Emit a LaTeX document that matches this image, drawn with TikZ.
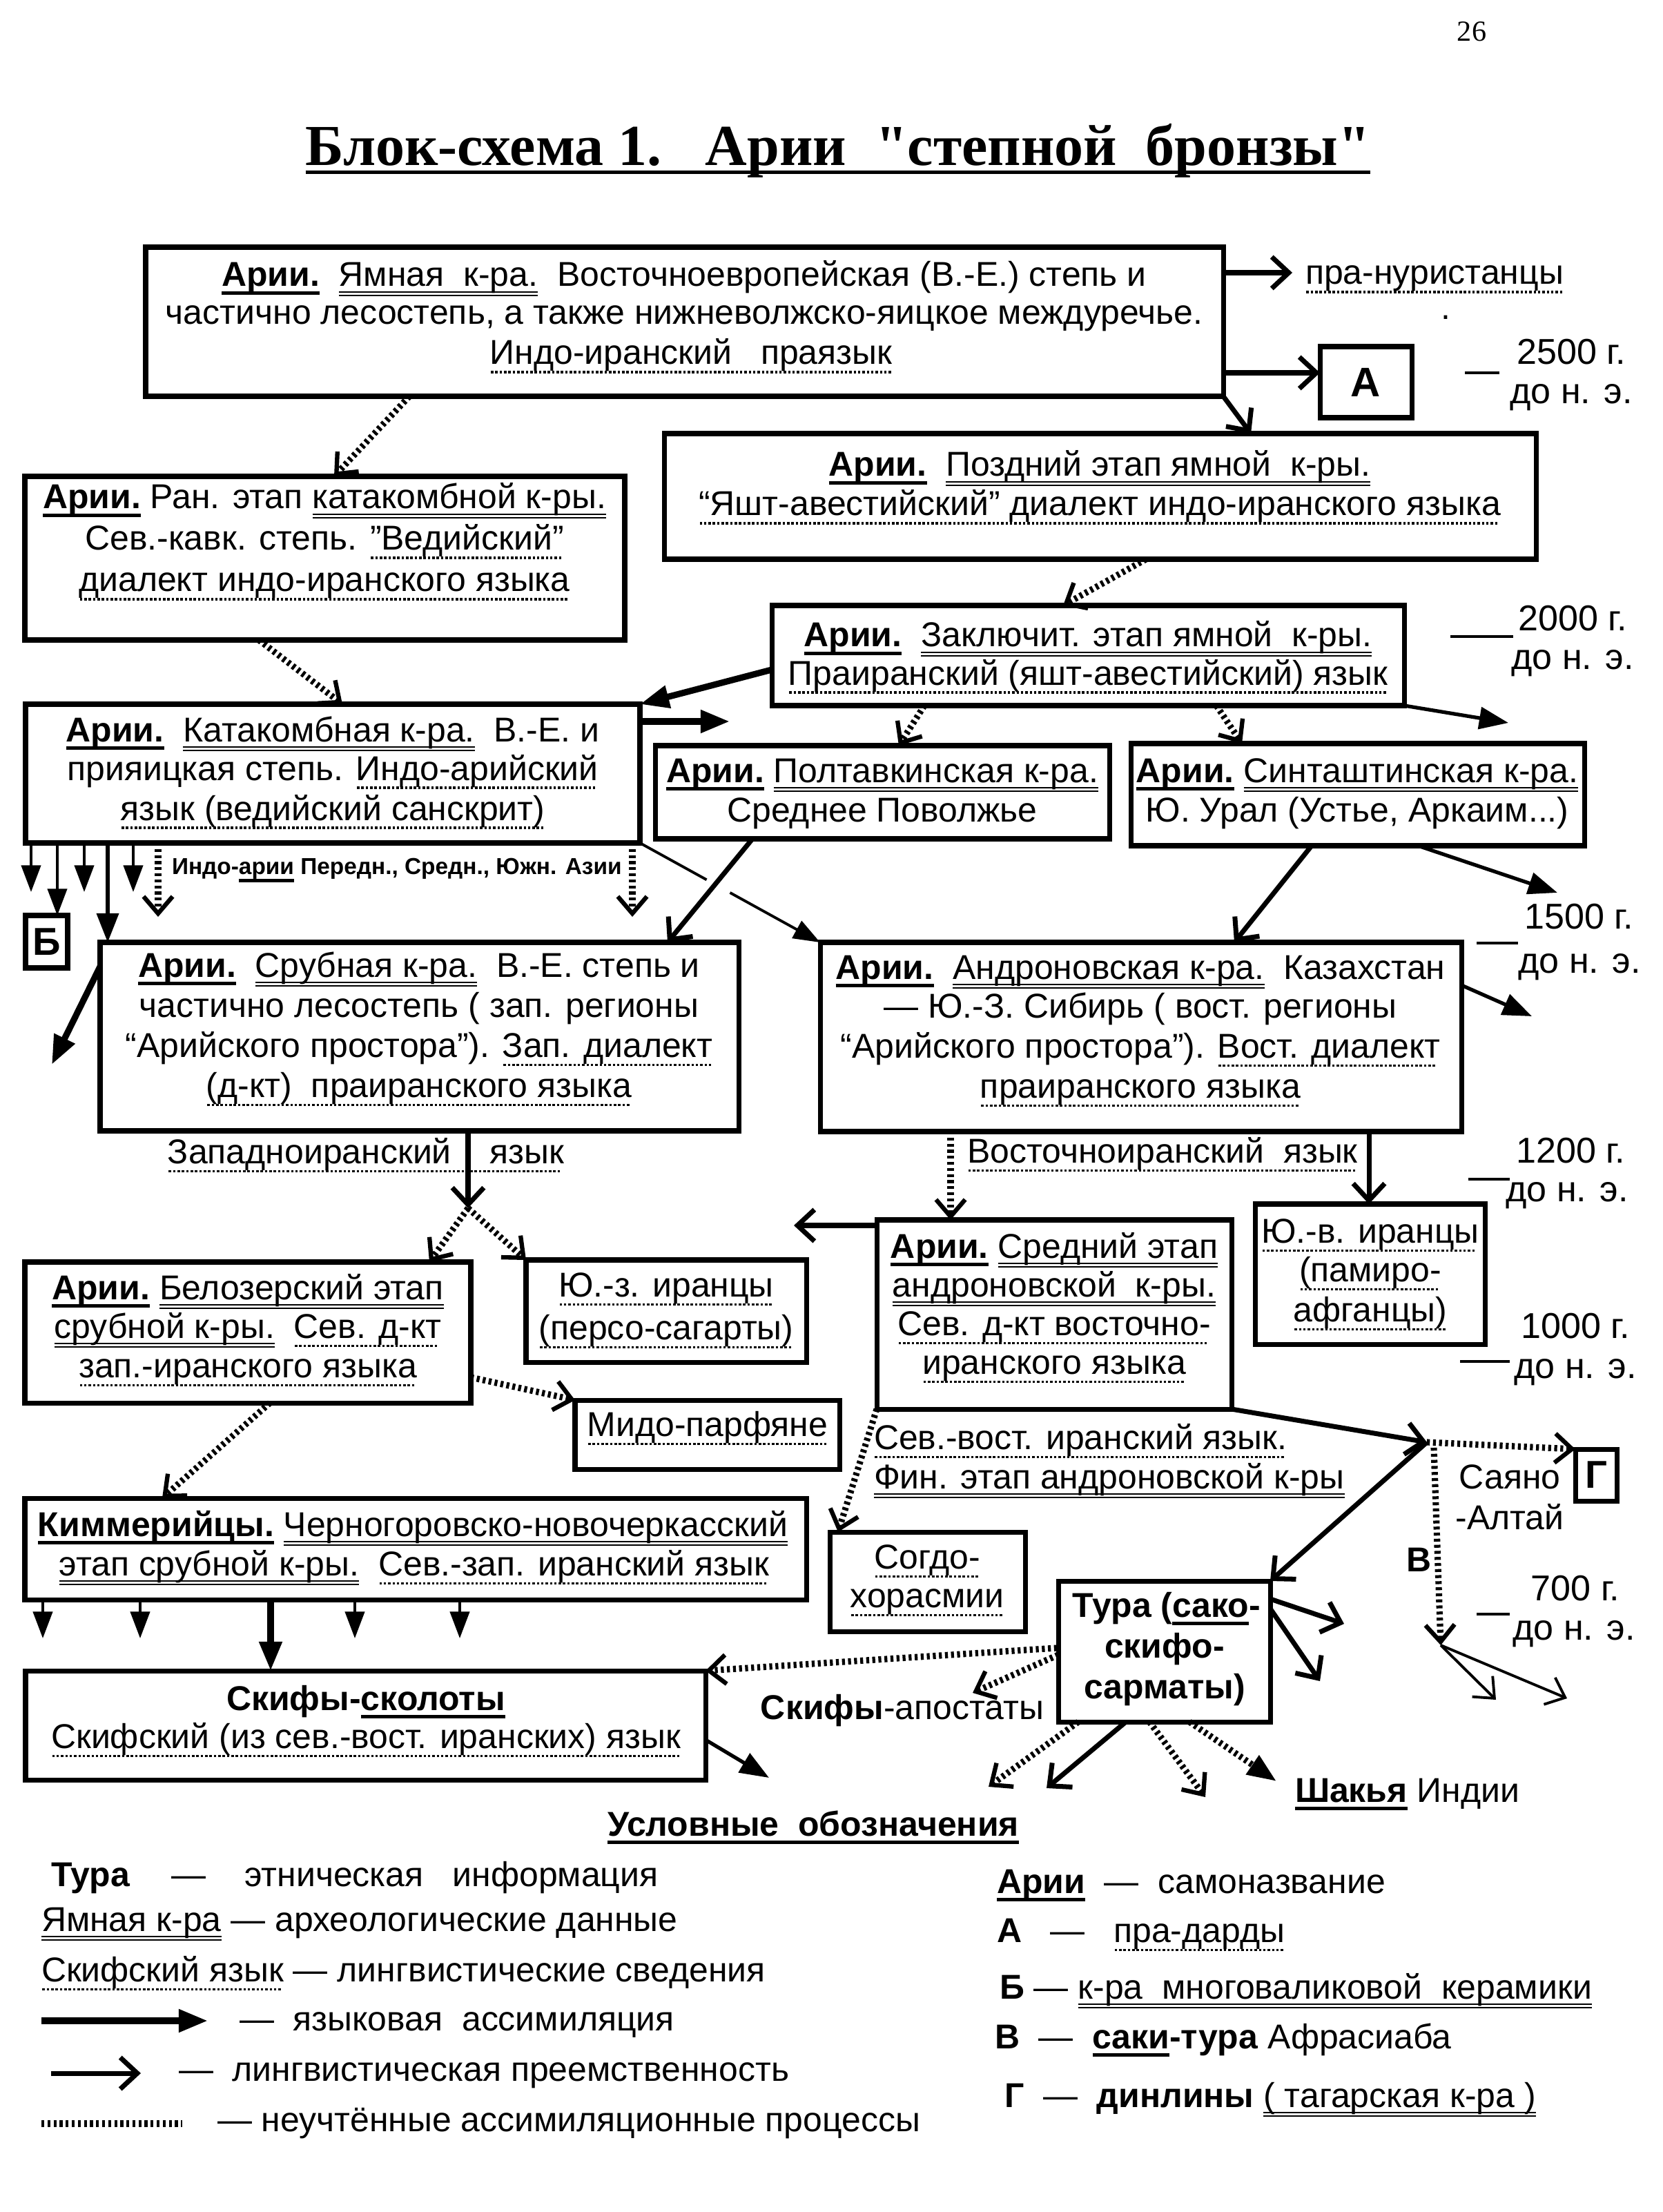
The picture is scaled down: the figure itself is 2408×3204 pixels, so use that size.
\documentclass[tikz,border=0pt]{standalone}
\usepackage{fontspec}
\setmainfont{Liberation Sans}
\newfontfamily\serifF{Liberation Serif}
\usetikzlibrary{arrows.meta,calc,fit}
\newcommand\fnorm{\fontsize{14.2}{17}\selectfont}
\newcommand\fyear{\fontsize{14.8}{17}\selectfont}
\newsavebox\ulbox
\newcommand\ulS[1]{\sbox\ulbox{#1}\leavevmode\rlap{\raisebox{-3.4pt}[0pt][0pt]{\rule{\wd\ulbox}{1.3pt}}}\usebox\ulbox}
\newcommand\ulD[1]{\sbox\ulbox{#1}\leavevmode\rlap{\raisebox{-2.6pt}[0pt][0pt]{\rule{\wd\ulbox}{0.5pt}}}\rlap{\raisebox{-4pt}[0pt][0pt]{\rule{\wd\ulbox}{0.5pt}}}\usebox\ulbox}
\newcommand\ulT[1]{\sbox\ulbox{#1}\leavevmode\rlap{\raisebox{-3.7pt}[0pt][0pt]{\hbox to\wd\ulbox{\leaders\hbox to 1.8pt{\hss\rule{1pt}{1pt}\hss}\hfill}}}\usebox\ulbox}
\begin{document}
\begin{tikzpicture}[x=0.01cm,y=-0.01cm,
 box/.style={draw,line width=2pt,inner sep=0pt,outer sep=0pt},
 txt/.style={inner sep=0pt,outer sep=0pt,font=\fnorm,anchor=base},
 txl/.style={txt,anchor=base west},
 yr/.style={txt,font=\fyear},
 asm/.style={line width=2.6pt,-{Triangle[length=12pt,width=9pt]}},
 asmm/.style={line width=1.5pt,-{Triangle[length=12pt,width=9pt]}},
 asmt/.style={line width=1.1pt,-{Triangle[length=11pt,width=8pt]}},
 cont/.style={line width=2pt,-{Straight Barb[length=7pt,width=13pt,line width=2pt]}},
 contt/.style={line width=1.1pt,-{Straight Barb[length=7pt,width=12pt,line width=1.1pt]}},
 dotl/.style={line width=2.6pt,dash pattern=on 1.2pt off 1.3pt},
 dota/.style={dotl,-{Straight Barb[length=7pt,width=12pt,line width=1.8pt]}},
 dotf/.style={dotl,-{Triangle[length=12pt,width=9pt]}},
 tick/.style={line width=0.9pt}]
\fill[white] (0,0) rectangle (2408,3204);
\useasboundingbox (0,0) rectangle (2408,3204);

% title
\node[txt,font=\serifF\bfseries\fontsize{23.9}{28}\selectfont] (title) at (1214,240) {\ulS{Блок-схема 1.\ \ \ Арии\ \ "степной\ \ бронзы"}};
\node[txt,font=\serifF\fontsize{12}{14}\selectfont] (pg) at (2132,60) {26};

% boxes
\node[box,fit={(211,358)(1772,574)}] (b1) {};
\node[box,fit={(1912,502)(2045,605)}] (bA) {};
\node[box,fit={(962,628)(2225,810)}] (b2) {};
\node[box,fit={(36,690)(905,927)}] (b3) {};
\node[box,fit={(1118,877)(2034,1022)}] (b4) {};
\node[box,fit={(37,1020)(927,1221)}] (b5) {};
\node[box,fit={(949,1080)(1607,1215)}] (b6) {};
\node[box,fit={(1638,1077)(2295,1225)}] (b7) {};
\node[box,fit={(37,1326)(98,1402)}] (bB) {};
\node[box,fit={(145,1365)(1070,1638)}] (b8) {};
\node[box,fit={(1188,1365)(2117,1639)}] (b9) {};
\node[box,fit={(36,1828)(682,2032)}] (b10) {};
\node[box,fit={(762,1825)(1168,1973)}] (b11) {};
\node[box,fit={(833,2028)(1216,2128)}] (b12) {};
\node[box,fit={(1270,1767)(1784,2041)}] (b13) {};
\node[box,fit={(1818,1744)(2151,1947)}] (b14) {};
\node[box,fit={(2282,2099)(2342,2174)}] (bG) {};
\node[box,fit={(1202,2219)(1485,2363)}] (bS) {};
\node[box,fit={(1533,2290)(1840,2494)}] (bT) {};
\node[box,fit={(36,2170)(1168,2317)}] (bK) {};
\node[box,fit={(37,2420)(1022,2578)}] (bSk) {};

% texts
\node[txt] (t1a) at (991,415) {\ulS{\textbf{Арии.}}\ \ \ulD{Ямная\ \ к-ра.}\ \ Восточноевропейская (В.-Е.) степь и};
\node[txt] (t1b) at (991,470) {частично лесостепь, а также нижневолжско-яицкое междуречье.};
\node[txt] (t1c) at (1001,528) {\ulT{Индо-иранский\ \ \ праязык}};
\node[txl] (tN) at (1891,412) {\ulT{пра-нуристанцы}};
\node[txt] (tdot) at (2094,463) {.};
\node[txt,font=\bfseries\fontsize{17}{19}\selectfont,anchor=center] (tA) at (bA.center) {А};

\node[yr] (y1a) at (2276,528) {2500 г.};
\node[yr] (y1b) at (2276,585) {до н. э.};
\node[yr] (y2a) at (2278,913) {2000 г.};
\node[yr] (y2b) at (2278,970) {до н. э.};
\node[yr] (y3a) at (2287,1345) {1500 г.};
\node[yr] (y3b) at (2288,1409) {до н. э.};
\node[yr] (y4a) at (2275,1684) {1200 г.};
\node[yr] (y4b) at (2270,1740) {до н. э.};
\node[yr] (y5a) at (2282,1938) {1000 г.};
\node[yr] (y5b) at (2282,1996) {до н. э.};
\node[yr] (y6a) at (2282,2318) {700 г.};
\node[yr] (y6b) at (2280,2375) {до н. э.};
\draw[tick] (2122,540) -- (2172,540);
\draw[tick] (2101,922) -- (2192,922);
\draw[tick] (2139,1366) -- (2199,1366);
\draw[tick] (2127,1708) -- (2187,1708);
\draw[tick] (2115,1972) -- (2187,1972);
\draw[tick] (2139,2338) -- (2187,2338);

\node[txt] (t2a) at (1593,690) {\ulS{\textbf{Арии.}}\ \ \ulD{Поздний этап ямной\ \ к-ры.}};
\node[txt] (t2b) at (1593,747) {\ulT{“Яшт-авестийский” диалект индо-иранского языка}};
\node[txt] (t3a) at (470,737) {\ulS{\textbf{Арии.}} Ран. этап \ulD{катакомбной к-ры.}};
\node[txt] (t3b) at (470,797) {Сев.-кавк. степь. \ulT{”Ведийский”}};
\node[txt] (t3c) at (470,857) {\ulT{диалект индо-иранского языка}};
\node[txt] (t4a) at (1576,937) {\ulS{\textbf{Арии.}}\ \ \ulD{Заключит. этап ямной\ \ к-ры.}};
\node[txt] (t4b) at (1576,992) {\ulT{Праиранский (яшт-авестийский) язык}};
\node[txt] (t5a) at (482,1074) {\ulS{\textbf{Арии.}}\ \ \ulD{Катакомбная к-ра.}\ \ В.-Е. и};
\node[txt] (t5b) at (482,1130) {прияицкая степь. \ulT{Индо-арийский}};
\node[txt] (t5c) at (482,1188) {\ulT{язык (ведийский санскрит)}};
\node[txt] (t6a) at (1278,1133) {\ulS{\textbf{Арии.}} \ulD{Полтавкинская к-ра.}};
\node[txt] (t6b) at (1278,1190) {Среднее Поволжье};
\node[txt] (t7a) at (1966,1133) {\ulS{\textbf{Арии.}} \ulD{Синташтинская к-ра.}};
\node[txt] (t7b) at (1966,1190) {Ю. Урал (Устье, Аркаим...)};
\node[txl,font=\bfseries\fontsize{9.5}{11}\selectfont] (tIA) at (249,1266) {Индо-\ulS{арии} Передн., Средн., Южн. Азии};
\node[txt,font=\bfseries\fontsize{16}{18}\selectfont,anchor=center] (tB) at (bB.center) {Б};
\node[txt] (t8a) at (607,1415) {\ulS{\textbf{Арии.}}\ \ \ulD{Срубная к-ра.}\ \ В.-Е. степь и};
\node[txt] (t8b) at (607,1473) {частично лесостепь ( зап. регионы};
\node[txt] (t8c) at (607,1531) {“Арийского простора”). \ulT{Зап. диалект}};
\node[txt] (t8d) at (607,1589) {\ulT{(д-кт)\ \ праиранского языка}};
\node[txt] (t9a) at (1652,1418) {\ulS{\textbf{Арии.}}\ \ \ulD{Андроновская к-ра.}\ \ Казахстан};
\node[txt] (t9b) at (1652,1474) {— Ю.-З. Сибирь ( вост. регионы};
\node[txt] (t9c) at (1652,1532) {“Арийского простора”). \ulT{Вост. диалект}};
\node[txt] (t9d) at (1652,1590) {\ulT{праиранского языка}};
\node[txt] (tWI) at (530,1685) {\ulT{Западноиранский\ \ \ \ язык}};
\node[txt] (tEI) at (1684,1684) {\ulT{Восточноиранский\ \ язык}};
\node[txt] (t10a) at (359,1882) {\ulS{\textbf{Арии.}} \ulD{Белозерский этап}};
\node[txt] (t10b) at (359,1938) {\ulD{срубной к-ры.}\ \ \ulT{Сев. д-кт}};
\node[txt] (t10c) at (359,1995) {\ulT{зап.-иранского языка}};
\node[txt] (t11a) at (965,1878) {\ulT{Ю.-з. иранцы}};
\node[txt] (t11b) at (965,1940) {\ulT{(персо-сагарты)}};
\node[txt] (t12) at (1025,2080) {\ulT{Мидо-парфяне}};
\node[txt] (t13a) at (1527,1822) {\ulS{\textbf{Арии.}} \ulD{Средний этап}};
\node[txt] (t13b) at (1527,1878) {\ulD{андроновской\ \ к-ры.}};
\node[txt] (t13c) at (1527,1934) {\ulT{Сев. д-кт восточно-}};
\node[txt] (t13d) at (1527,1990) {\ulT{иранского языка}};
\node[txt] (t14a) at (1985,1800) {\ulT{Ю.-в. иранцы}};
\node[txt] (t14b) at (1985,1856) {\ulT{(памиро-}};
\node[txt] (t14c) at (1985,1914) {\ulT{афганцы)}};
\node[txl] (tSV1) at (1266,2099) {\ulT{Сев.-вост. иранский язык.}};
\node[txl] (tSV2) at (1266,2156) {\ulD{Фин. этап андроновской к-ры}};
\node[txt,font=\bfseries\fontsize{16}{18}\selectfont,anchor=center] (tG) at (bG.center) {Г};
\node[txt] (tSa) at (2187,2156) {Саяно};
\node[txt] (tAl) at (2187,2215) {-Алтай};
\node[txt,font=\bfseries\fnorm] (tV) at (2055,2276) {В};
\node[txt] (tS1) at (1343,2272) {\ulT{Согдо-}};
\node[txt] (tS2) at (1343,2328) {\ulT{хорасмии}};
\node[txt,font=\bfseries\fnorm] (tT1) at (1690,2342) {Тура (\ulS{сако}-};
\node[txt,font=\bfseries\fnorm] (tT2) at (1687,2401) {скифо-};
\node[txt,font=\bfseries\fnorm] (tT3) at (1687,2460) {сарматы)};
\node[txt] (tK1) at (598,2225) {\ulS{\textbf{Киммерийцы.}} \ulD{Черногоровско-новочеркасский}};
\node[txt] (tK2) at (600,2282) {\ulD{этап срубной к-ры.}\ \ \ulT{Сев.-зап. иранский язык}};
\node[txt] (tSk1) at (530,2477) {\textbf{Скифы-\ulS{сколоты}}};
\node[txt] (tSk2) at (530,2532) {\ulT{Скифский (из сев.-вост. иранских) язык}};
\node[txt,anchor=base east] (tSA) at (1512,2490) {\textbf{Скифы}-апостаты};
\node[txl] (tSh) at (1876,2610) {\ulS{\textbf{Шакья}} Индии};

% connectors
\coordinate (cN) at (1872,395);
\draw[cont] ([shift={(1561,37)}]b1.north west) -- (cN);
\draw[cont] ([shift={(1561,182)}]b1.north west) -- ([shift={(0,38)}]bA.north west);
\draw[cont] (b1.south east) -- ([shift={(850,0)}]b2.north west);
\draw[dota] ([shift={(382,216)}]b1.north west) -- ([shift={(448,0)}]b3.north west);
\draw[dota] ([shift={(698,182)}]b2.north west) -- ([shift={(422,0)}]b4.north west);
\draw[dota] ([shift={(339,237)}]b3.north west) -- ([shift={(459,0)}]b5.north west);
\draw[asm] ([shift={(0,93)}]b4.north west) -- (b5.north east);
\coordinate (cR1) at (1057,1045);
\draw[asm] ([shift={(890,25)}]b5.north west) -- (cR1);
\draw[dota] ([shift={(221,145)}]b4.north west) -- ([shift={(353,0)}]b6.north west);
\draw[dota] ([shift={(644,145)}]b4.north west) -- ([shift={(161,0)}]b7.north west);
\coordinate (cR2) at (2185,1047);
\draw[asmm] (b4.south east) -- (cR2);

\coordinate (cD1) at (45,1292);
\coordinate (cD2) at (122,1292);
\coordinate (cD3) at (193,1292);
\coordinate (cD4) at (229,1328);
\coordinate (cD5) at (916,1328);
\draw[asmt] ([shift={(8,201)}]b5.north west) -- (cD1);
\draw[asmt] ([shift={(46,201)}]b5.north west) -- ([shift={(46,0)}]bB.north west);
\draw[asmt] ([shift={(85,201)}]b5.north west) -- (cD2);
\draw[asmm] ([shift={(119,201)}]b5.north west) -- ([shift={(11,0)}]b8.north west);
\draw[asmt] ([shift={(156,201)}]b5.north west) -- (cD3);
\draw[dota] ([shift={(192,201)}]b5.north west) -- (cD4);
\draw[dota] ([shift={(879,201)}]b5.north west) -- (cD5);

\draw[line width=1.1pt] (b5.south east) -- ($(b5.south east)!0.37!(b9.north west)$);
\draw[asmt] ($(b5.south east)!0.5!(b9.north west)$) -- (b9.north west);
\draw[cont] ([shift={(141,135)}]b6.north west) -- ([shift={(822,0)}]b8.north west);
\draw[cont] ([shift={(262,148)}]b7.north west) -- ([shift={(600,0)}]b9.north west);
\coordinate (cR3) at (2256,1293);
\draw[asmm] ([shift={(416,148)}]b7.north west) -- (cR3);
\coordinate (cL1) at (75,1542);
\draw[asm] ([shift={(0,35)}]b8.north west) -- (cL1);
\coordinate (cR4) at (2219,1472);
\draw[asmm] ([shift={(929,62)}]b9.north west) -- (cR4);

\coordinate (cW) at (678,1750);
\draw[cont] ([shift={(533,273)}]b8.north west) -- (cW);
\draw[dota] (cW) -- ([shift={(586,0)}]b10.north west);
\draw[dota] (cW) -- (b11.north west);
\draw[dota] ([shift={(646,167)}]b10.north west) -- (b12.north west);
\draw[dota] ([shift={(355,204)}]b10.north west) -- ([shift={(199,0)}]bK.north west);
\draw[dota] ([shift={(189,274)}]b9.north west) -- ([shift={(107,0)}]b13.north west);
\draw[cont] ([shift={(795,274)}]b9.north west) -- ([shift={(165,0)}]b14.north west);
\coordinate (cL2) at (1150,1775);
\draw[cont] ([shift={(0,8)}]b13.north west) -- (cL2);

\coordinate (cV) at (2067,2089);
\draw[cont] (b13.south east) -- (cV);
\draw[dota] (cV) -- (bG.north west);
\coordinate (cB) at (2087,2383);
\draw[dota] ([shift={(10,8)}]cV) -- (cB);
\draw[cont] (cV) -- (bT.north east);
\coordinate (cB1) at (2167,2462);
\coordinate (cB2) at (2270,2460);
\draw[contt] (cB) -- (cB1);
\draw[contt] (cB) -- (cB2);
\draw[dota] (b13.south west) -- ([shift={(12,0)}]bS.north west);

\coordinate (cT1) at (1947,2352);
\coordinate (cT2) at (1912,2435);
\draw[cont] ([shift={(307,26)}]bT.north west) -- (cT1);
\draw[cont] ([shift={(307,40)}]bT.north west) -- (cT2);
\draw[dota] ([shift={(-2,97)}]bT.north west) -- (bSk.north east);
\coordinate (cA) at (1409,2452);
\draw[dota] ([shift={(0,107)}]bT.north west) -- (cA);
\coordinate (cT3) at (1432,2588);
\coordinate (cT4) at (1516,2590);
\coordinate (cT5) at (1746,2603);
\coordinate (cT6) at (1849,2580);
\draw[dota] ([shift={(29,204)}]bT.north west) -- (cT3);
\draw[cont] ([shift={(98,204)}]bT.north west) -- (cT4);
\draw[dota] ([shift={(132,204)}]bT.north west) -- (cT5);
\draw[dotf] ([shift={(190,204)}]bT.north west) -- (cT6);

\coordinate (cK1) at (62,2373);
\coordinate (cK2) at (203,2373);
\coordinate (cK3) at (514,2373);
\coordinate (cK4) at (666,2373);
\draw[asmt] ([shift={(26,147)}]bK.north west) -- (cK1);
\draw[asmt] ([shift={(167,147)}]bK.north west) -- (cK2);
\draw[asmt] ([shift={(478,147)}]bK.north west) -- (cK3);
\draw[asmt] ([shift={(630,147)}]bK.north west) -- (cK4);
\draw[asm] ([shift={(356,147)}]bK.north west) -- ([shift={(355,0)}]bSk.north west);
\coordinate (cS1) at (1114,2575);
\draw[asmm] ([shift={(985,100)}]bSk.north west) -- (cS1);

% legend
\node[txt,font=\bfseries\fnorm] (lgT) at (1178,2659) {\ulS{Условные\ \ обозначения}};
\node[txl] (lg1) at (74,2732) {\textbf{Тура}\hspace{17pt}—\hspace{16pt}этническая\hspace{12pt}информация};
\node[txl] (lg2) at (60,2797) {\ulD{Ямная к-ра} — археологические данные};
\node[txl] (lg3) at (60,2870) {\ulT{Скифский язык} — лингвистические сведения};
\coordinate (la1) at (60,2927);
\coordinate (la2) at (301,2927);
\draw[asm] (la1) -- (la2);
\node[txl] (lg4) at (347,2941) {—\ \ языковая\ \ ассимиляция};
\coordinate (lb1) at (74,3003);
\coordinate (lb2) at (204,3003);
\draw[cont] (lb1) -- (lb2);
\node[txl] (lg5) at (259,3014) {—\ \ лингвистическая преемственность};
\coordinate (lc1) at (60,3076);
\coordinate (lc2) at (264,3076);
\draw[dotl] (lc1) -- (lc2);
\node[txl] (lg6) at (315,3087) {— неучтённые ассимиляционные процессы};

\node[txl] (lr1) at (1444,2742) {\ulS{\textbf{Арии}}\ \ —\ \ самоназвание};
\node[txl] (lr2) at (1444,2813) {\textbf{А}\ \ \ —\ \ \ \ulT{пра-дарды}};
\node[txl] (lr3) at (1448,2895) {\textbf{Б} — \ulD{к-ра\ \ многоваликовой\ \ керамики}};
\node[txl] (lr4) at (1441,2967) {\textbf{В}\ \ —\ \ \textbf{\ulS{саки}-тура} Афрасиаба};
\node[txl] (lr5) at (1455,3052) {\textbf{Г}\ \ —\ \ \textbf{динлины} \ulD{( тагарская к-ра )}};
\end{tikzpicture}
\end{document}
